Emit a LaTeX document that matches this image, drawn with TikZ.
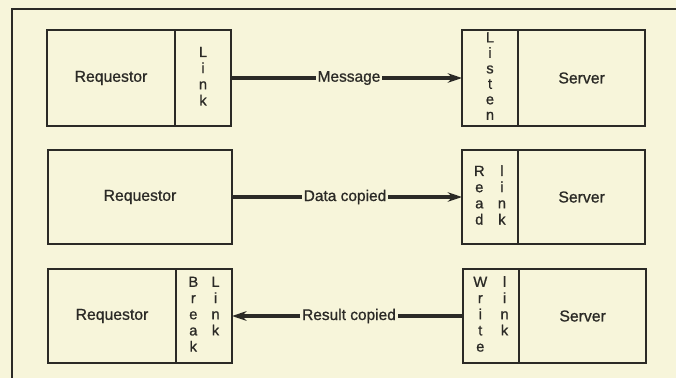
\documentclass[tikz,border=0pt]{standalone}
\usepackage{fontspec}
\setmainfont{Liberation Sans}
\newfontfamily\diagfont{Liberation Sans}[FakeBold=0.9]
\usetikzlibrary{arrows.meta,positioning}
\definecolor{paper}{HTML}{F7F5DA}
\definecolor{ink}{HTML}{2B2A26}
\tikzset{
  procbox/.style={draw=ink, line width=1.4pt, fill=paper, inner sep=0pt, outer sep=0pt, text=ink, font=\diagfont\fontsize{11.2}{12}\selectfont},
  linkstrip/.style={draw=ink, line width=1.4pt, fill=paper, inner sep=0pt, outer sep=0pt, minimum width=1.4cm, text=ink, font=\diagfont\fontsize{10.5}{11.5}\selectfont},
  msgarrow/.style={-{Stealth[length=3.6mm,width=2.4mm]}, line width=2.6pt, draw=ink},
  msglabel/.style={inner sep=1pt, text=ink, font=\diagfont\fontsize{11}{12}\selectfont},
}
\newcommand{\vstack}[1]{\begin{tabular}{@{}c@{}}#1\end{tabular}}
\newcommand{\vpair}[1]{\begin{tabular}{@{}c@{\hspace{3.3mm}}c@{}}#1\end{tabular}}

\begin{document}
\begin{tikzpicture}[x=0.025cm, y=-0.025cm]
  \useasboundingbox[fill=paper] (0,0) rectangle (676,378);
  % outer frame
  \draw[ink, line width=1.1pt] (676,9) -- (12,9) -- (12,378);

  % first row: link and listen
  \node[procbox, minimum width=3.2cm, minimum height=2.4cm] (req1) at (111,78) {Requestor};
  \node[linkstrip, minimum height=2.4cm, right=0pt of req1] (link1) {\vstack{L\\i\\n\\k}};
  \node[linkstrip, minimum height=2.4cm, font=\diagfont\fontsize{10.5}{11}\selectfont] (listen) at (490,78) {\vstack{L\\i\\s\\t\\e\\n}};
  \node[procbox, minimum width=3.18cm, minimum height=2.4cm, right=0pt of listen] (srv1) {Server};
  \node[msglabel] (msg) at (349,78) {Message};
  \draw[msgarrow] (link1.east) -- (msg) -- (listen.west);

  % second row: read
  \node[procbox, minimum width=4.6cm, minimum height=2.37cm] (req2) at (140,197) {Requestor};
  \node[linkstrip, minimum height=2.37cm] (read) at (490,197) {\vpair{R&l\\e&i\\a&n\\d&k}};
  \node[procbox, minimum width=3.18cm, minimum height=2.37cm, right=0pt of read] (srv2) {Server};
  \node[msglabel] (data) at (345,197) {Data copied};
  \draw[msgarrow] (req2.east) -- (data) -- (read.west);

  % third row: write and break
  \node[procbox, minimum width=3.2cm, minimum height=2.33cm] (req3) at (112,316) {Requestor};
  \node[linkstrip, minimum height=2.33cm, right=0pt of req3] (brk) {\vpair{B&L\\r&i\\e&n\\a&k\\k&}};
  \node[linkstrip, minimum height=2.33cm] (write) at (491,316) {\vpair{W&l\\r&i\\i&n\\t&k\\e&}};
  \node[procbox, minimum width=3.18cm, minimum height=2.33cm, right=0pt of write] (srv3) {Server};
  \node[msglabel] (res) at (349,316) {Result copied};
  \draw[msgarrow] (write.west) -- (res) -- (brk.east);
\end{tikzpicture}
\end{document}
